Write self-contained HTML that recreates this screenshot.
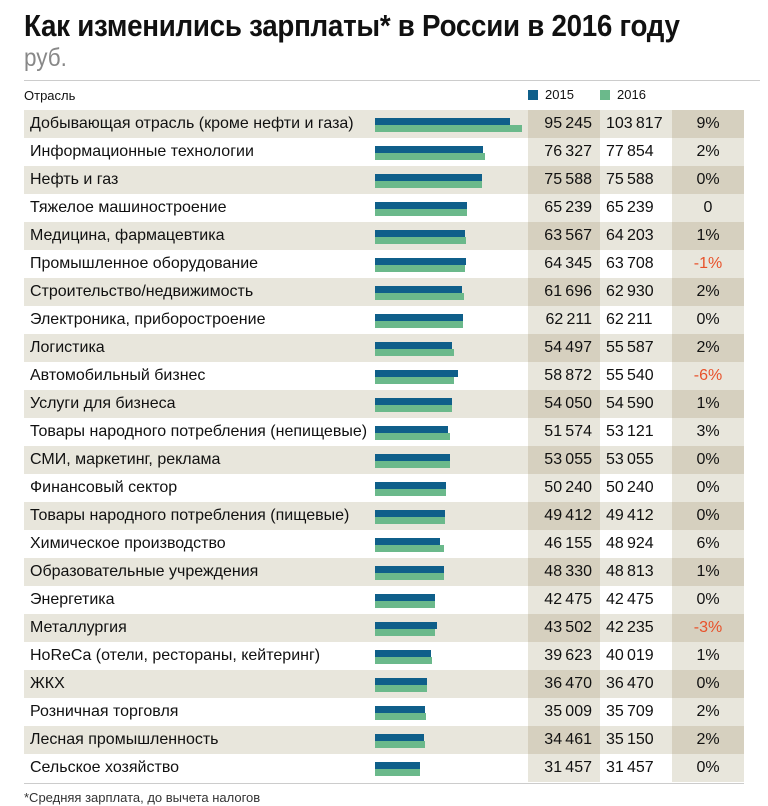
<!DOCTYPE html>
<html><head><meta charset="utf-8"><style>
body{margin:0;background:#fff;width:768px;height:806px;overflow:hidden;font-family:"Liberation Sans",sans-serif;color:#111;position:relative}
.t{position:absolute;left:24px;top:8px;font-size:31px;font-weight:bold;white-space:nowrap;letter-spacing:-0.3px;transform:scaleX(0.895);transform-origin:0 0}
.s{position:absolute;left:24px;top:44px;font-size:25px;color:#888;transform:scaleX(0.9);transform-origin:0 0}
.hl{position:absolute;left:24px;top:80px;width:736px;height:1px;background:#ccc}
.bl{position:absolute;left:24px;top:783px;width:720px;height:1px;background:#ccc}
.row{position:absolute;left:24px;width:720px;height:28px;font-size:16px}
.row div{position:absolute;top:0;height:28px;line-height:28px}
.lab{left:6px;white-space:nowrap}
.c1{left:504px;width:72px;text-align:right;padding-right:0}
.c2{left:576px;width:72px}
.c3{left:648px;width:72px;text-align:center}
.b1,.b2{height:7px!important}
.neg{color:#e8512a}
</style></head><body>
<div class="t">Как изменились зарплаты* в России в 2016 году</div>
<div class="s">руб.</div>
<div class="hl"></div>
<div style="position:absolute;left:24px;top:88px;font-size:13px">Отрасль</div>
<div style="position:absolute;left:528px;top:90px;width:10px;height:10px;background:#0f5f8a"></div>
<div style="position:absolute;left:545px;top:87px;font-size:13px">2015</div>
<div style="position:absolute;left:600px;top:90px;width:10px;height:10px;background:#6bb98b"></div>
<div style="position:absolute;left:617px;top:87px;font-size:13px">2016</div>
<div id="rows"></div>
<div class="bl"></div>
<div style="position:absolute;left:24px;top:790px;font-size:13px;color:#333">*Средняя зарплата, до вычета налогов</div>
<script>
var d=[["Добывающая отрасль (кроме нефти и газа)",95245,103817,"9%"],["Информационные технологии",76327,77854,"2%"],["Нефть и газ",75588,75588,"0%"],["Тяжелое машиностроение",65239,65239,"0"],["Медицина, фармацевтика",63567,64203,"1%"],["Промышленное оборудование",64345,63708,"-1%"],["Строительство/недвижимость",61696,62930,"2%"],["Электроника, приборостроение",62211,62211,"0%"],["Логистика",54497,55587,"2%"],["Автомобильный бизнес",58872,55540,"-6%"],["Услуги для бизнеса",54050,54590,"1%"],["Товары народного потребления (непищевые)",51574,53121,"3%"],["СМИ, маркетинг, реклама",53055,53055,"0%"],["Финансовый сектор",50240,50240,"0%"],["Товары народного потребления (пищевые)",49412,49412,"0%"],["Химическое производство",46155,48924,"6%"],["Образовательные учреждения",48330,48813,"1%"],["Энергетика",42475,42475,"0%"],["Металлургия",43502,42235,"-3%"],["HoReCa (отели, рестораны, кейтеринг)",39623,40019,"1%"],["ЖКХ",36470,36470,"0%"],["Розничная торговля",35009,35709,"2%"],["Лесная промышленность",34461,35150,"2%"],["Сельское хозяйство",31457,31457,"0%"]];
function f(n){var s=String(n);return s.slice(0,s.length-3)+"\u2009"+s.slice(-3)}
var h="",k=135/95245;
d.forEach(function(r,i){var y=110+i*28,o=i%2==0;var bg=o?"#e8e6dc":"#fff",sh=o?"#d6d0bf":"#e8e6dc";
h+='<div class="row" style="top:'+y+'px;background:'+bg+'"><div class="lab">'+r[0]+'</div>'+
'<div class="b1" style="left:351px;top:8px;width:'+Math.round(r[1]*k)+'px;background:#0f5f8a"></div>'+
'<div class="b2" style="left:351px;top:15px;width:'+Math.round(r[2]*k)+'px;background:#6bb98b"></div>'+
'<div class="c1" style="background:'+sh+'"><span style="padding-right:8px">'+f(r[1])+'</span></div>'+
'<div class="c2"><span style="padding-left:6px">'+f(r[2])+'</span></div>'+
'<div class="c3 '+(r[3][0]=="-"?"neg":"")+'" style="background:'+sh+'">'+r[3]+'</div></div>';});
document.getElementById("rows").innerHTML=h;
</script>
</body></html>
